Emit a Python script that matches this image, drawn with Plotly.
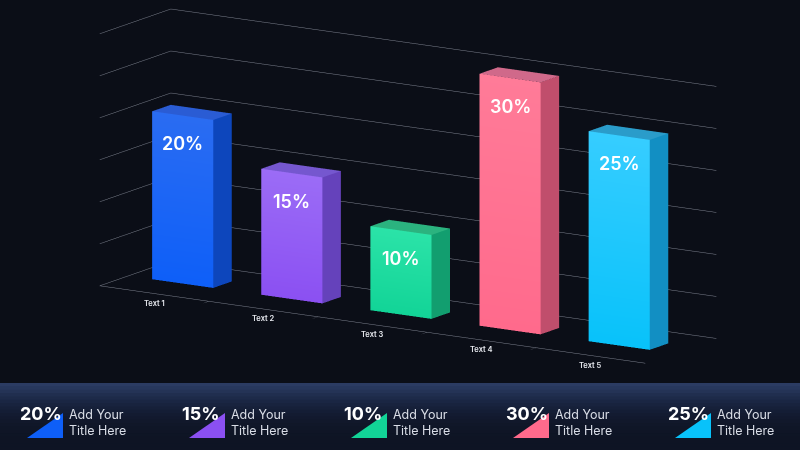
import plotly.graph_objects as go

# ---------------- data ----------------
categories = ["Text 1", "Text 2", "Text 3", "Text 4", "Text 5"]
values = [20, 15, 10, 30, 25]
labels = ["20%", "15%", "10%", "30%", "25%"]
legend_titles = ["Add Your<br>Title Here"] * 5

# face colours: front (top / bottom of gradient), right side, top
front_top = ["#2a6cf2", "#9b6cf6", "#2be3a8", "#ff7b98", "#36cdff"]
front_bot = ["#0e5ff8", "#8b50f2", "#12d497", "#ff6a8c", "#08c2fa"]
side_col = ["#0d46bc", "#6542bb", "#129e6f", "#c04e6c", "#128fc3"]
top_col = ["#2a5cd4", "#7557cf", "#2bb37f", "#d0698a", "#2a9cca"]

BG = "#0b0e17"
W, H = 800, 450
HALF_W = 0.28          # half width of a bar (category units)
Y0, Y1 = 0.40, 0.66    # bar depth on the y axis


def box_mesh(i, h, c_top, c_bot, c_side, c_lid):
    x0, x1 = i - HALF_W, i + HALF_W
    # front face (y = Y0), right face (x = x1), top face (z = h)
    xs = [x0, x1, x1, x0,   x1, x1, x1, x1,   x0, x1, x1, x0]
    ys = [Y0, Y0, Y0, Y0,   Y0, Y1, Y1, Y0,   Y0, Y0, Y1, Y1]
    zs = [0, 0, h, h,       0, 0, h, h,       h, h, h, h]
    cols = [c_bot, c_bot, c_top, c_top] + [c_side] * 4 + [c_lid] * 4
    ii, jj, kk = [], [], []
    for f in range(3):
        b = 4 * f
        ii += [b, b]
        jj += [b + 1, b + 2]
        kk += [b + 2, b + 3]
    return go.Mesh3d(
        x=xs, y=ys, z=zs, i=ii, j=jj, k=kk, vertexcolor=cols,
        flatshading=True, hoverinfo="skip", showscale=False,
        lighting=dict(ambient=1.0, diffuse=0.0, specular=0.0,
                      roughness=1.0, fresnel=0.0),
    )


fig = go.Figure()
for n, v in enumerate(values):
    fig.add_trace(box_mesh(n, v, front_top[n], front_bot[n],
                           side_col[n], top_col[n]))

scene_notes = []
for n in range(len(values)):
    # value on the front face
    scene_notes.append(dict(x=n, y=Y0, z=values[n] - 3.4, text=labels[n],
                            showarrow=False,
                            font=dict(family="Inter", size=18, color="white",
                                      weight=600)))
    # category name under the front edge
    scene_notes.append(dict(x=n, y=0, z=0, text=categories[n],
                            showarrow=False, yshift=-10,
                            font=dict(family="Inter", size=7.5,
                                      color="#e6e8ee", weight=600)))

axis_common = dict(showbackground=False, showspikes=False, zeroline=False,
                   title=dict(text=""))
fig.update_layout(
    scene=dict(
        domain=dict(x=[0, 1], y=[0.15, 1]),
        xaxis=dict(axis_common, range=[-0.5, 4.5],
                   tickvals=[0.5, 1.5, 2.5, 3.5], ticktext=[" "] * 4,
                   showgrid=False, showline=True,
                   linecolor="#7d828e", linewidth=1, ticks="outside",
                   ticklen=3, tickcolor="#7d828e",
                   tickfont=dict(size=1, color=BG)),
        yaxis=dict(axis_common, range=[0, 1], showgrid=False,
                   showticklabels=False, showline=False, ticks=""),
        zaxis=dict(axis_common, range=[0, 30], dtick=5, showgrid=True,
                   gridcolor="#7d828e", gridwidth=1, showticklabels=False,
                   showline=False, ticks=""),
        aspectmode="manual",
        aspectratio=dict(x=3.38, y=0.69, z=1.35),
        camera=dict(eye=dict(x=1.01, y=-1.66, z=0.414),
                    center=dict(x=-0.05, y=0, z=-0.035),
                    up=dict(x=0, y=0, z=1),
                    projection=dict(type="orthographic")),
        bgcolor=BG,
        annotations=scene_notes,
    ),
    paper_bgcolor=BG,
    plot_bgcolor=BG,
    width=W, height=H,
    margin=dict(l=0, r=0, t=0, b=0),
    showlegend=False,
)

# ---------------- bottom band ----------------
band_top = 1 - 383 / H
band_cols = ["#2b3b62", "#27375c", "#243356", "#202e4f", "#1d2a49",
             "#1a2643", "#18233e", "#162039", "#141d35", "#131b31",
             "#12192e", "#11182b", "#101729", "#0f1627", "#0f1526",
             "#0e1525", "#0e1424", "#0e1424", "#0e1424", "#0e1424"]
step = band_top / len(band_cols)
shapes = []
for k, c in enumerate(band_cols):
    shapes.append(dict(type="rect", xref="paper", yref="paper",
                       x0=0, x1=1, y0=band_top - (k + 1) * step - 0.002,
                       y1=band_top - k * step, fillcolor=c,
                       line=dict(width=0), layer="below"))

annotations = []
for n in range(len(values)):
    bx = 20 + 162 * n
    tri = (f"M {(bx + 7) / W},{1 - 438 / H} "
           f"L {(bx + 43) / W},{1 - 413 / H} "
           f"L {(bx + 43) / W},{1 - 438 / H} Z")
    shapes.append(dict(type="path", xref="paper", yref="paper", path=tri,
                       fillcolor=front_bot[n], line=dict(width=0)))
    annotations.append(dict(x=(bx - 2) / W, y=1 - 413 / H, xref="paper",
                            yref="paper", xanchor="left", yanchor="middle",
                            text=labels[n], showarrow=False,
                            font=dict(family="Inter", size=18, color="white",
                                      weight=700)))
    annotations.append(dict(x=(bx + 47) / W, y=1 - 422 / H, xref="paper",
                            yref="paper", xanchor="left", yanchor="middle",
                            align="left", text=legend_titles[n],
                            showarrow=False,
                            font=dict(family="Inter", size=12.5,
                                      color="#d9dde6")))

fig.update_layout(shapes=shapes, annotations=annotations)
fig.write_html(
    "out.html",
    config=dict(displayModeBar=False),
    post_script="document.body.style.margin='0';"
                "document.body.style.background='#0b0e17';",
)
